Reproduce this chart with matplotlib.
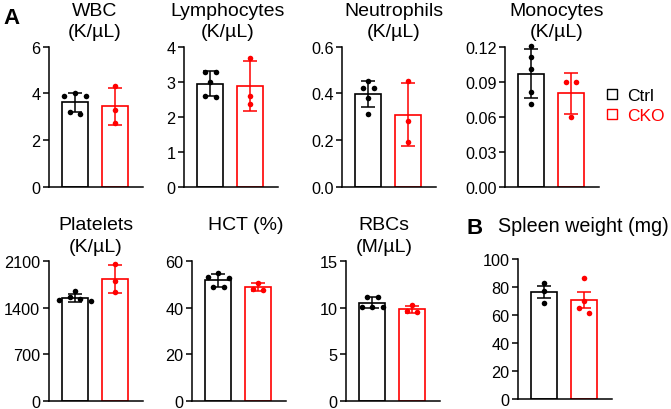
import numpy as np
import matplotlib
matplotlib.use("Agg")
import matplotlib.pyplot as plt
from matplotlib.lines import Line2D

plt.rcParams['font.family'] = ['Liberation Sans', 'DejaVu Sans']

# ---- data ----
groups = ["Ctrl", "CKO"]

wbc_ctrl = [3.87, 4.01, 3.87, 3.11, 3.19]
wbc_cko = [4.30, 3.30, 2.73]
lym_ctrl = [3.29, 3.27, 3.00, 2.60, 2.55]
lym_cko = [3.68, 2.60, 2.36]
neu_ctrl = [0.454, 0.421, 0.421, 0.381, 0.310]
neu_cko = [0.454, 0.281, 0.190]
mono_ctrl = [0.121, 0.111, 0.101, 0.081, 0.071]
mono_cko = [0.090, 0.090, 0.060]
plt_ctrl = [1650, 1560, 1530, 1510, 1495]
plt_cko = [2050, 1805, 1639]
hct_ctrl = [54.8, 53.0, 52.8, 49.0, 48.9]
hct_cko = [50.7, 47.6, 48.0]
rbc_ctrl = [11.16, 11.16, 10.10, 10.10, 10.03]
rbc_cko = [10.27, 9.56, 9.60]
spleen_ctrl = [83.1, 77.1, 68.3]
spleen_cko = [86.7, 70.2, 61.2, 64.8]

wbc_ticks = [0, 2, 4, 6]
lym_ticks = [0, 1, 2, 3, 4]
neu_ticks = [0.0, 0.2, 0.4, 0.6]
mono_ticks = [0.00, 0.03, 0.06, 0.09, 0.12]
plt_ticks = [0, 700, 1400, 2100]
hct_ticks = [0, 20, 40, 60]
rbc_ticks = [0, 5, 10, 15]
spleen_ticks = [0, 20, 40, 60, 80, 100]

W, H = 671, 410
colors = ["black", "#ff0000"]

# title, ctrl, cko, ticks, tick format, error type,
# axes box in px (left, top, right, bottom), title centre x / top y in px
panels = [
    ("WBC\n(K/µL)", wbc_ctrl, wbc_cko, wbc_ticks, "{:.0f}", "sd", (48.7, 47.7, 143, 187.7), (95, 3)),
    ("Lymphocytes\n(K/µL)", lym_ctrl, lym_cko, lym_ticks, "{:.0f}", "sd", (184, 47.7, 278, 187.7), (228, 3)),
    ("Neutrophils\n(K/µL)", neu_ctrl, neu_cko, neu_ticks, "{:.1f}", "sd", (342, 47.7, 436, 187.7), (394, 3)),
    ("Monocytes\n(K/µL)", mono_ctrl, mono_cko, mono_ticks, "{:.2f}", "sd", (505, 47.7, 599, 187.7), (557, 3)),
    ("Platelets\n(K/µL)", plt_ctrl, plt_cko, plt_ticks, "{:.0f}", "sd", (48.7, 262, 143, 402), (96, 217.5)),
    ("HCT (%)", hct_ctrl, hct_cko, hct_ticks, "{:.0f}", "sd", (192, 262, 286, 402), (246, 217.5)),
    ("RBCs\n(M/µL)", rbc_ctrl, rbc_cko, rbc_ticks, "{:.0f}", "sd", (346, 262, 440, 402), (384, 217.5)),
    (None, spleen_ctrl, spleen_cko, spleen_ticks, "{:.0f}", "sem", (518, 260, 612, 400), None),
]


def swarm_offsets(vals, px_per_val, gap_px=5.5, step=0.27):
    # GraphPad-like: points closer than gap_px share a row, spread symmetrically
    order = sorted(range(len(vals)), key=lambda i: -vals[i])
    rows = []
    for i in order:
        if rows and (vals[rows[-1][-1]] - vals[i]) * px_per_val < gap_px:
            rows[-1].append(i)
        else:
            rows.append([i])
    offs = [0.0] * len(vals)
    for row in rows:
        n = len(row)
        if n % 2:
            slots = [0]
            for k in range(1, n // 2 + 1):
                slots += [-k, k]
        else:
            slots = []
            for k in range(n // 2):
                slots += [-(k + 0.5), k + 0.5]
        for i, s in zip(row, slots):
            offs[i] = s * step
    return offs


fig = plt.figure(figsize=(W / 100, H / 100), dpi=100)

for title, ctrl, cko, ticks, fmt, err, (l, t, r, b), tpos in panels:
    ax = fig.add_axes([l / W, 1 - b / H, (r - l) / W, (b - t) / H])
    ymax = ticks[-1]
    px_per_val = (b - t) / ymax
    for xi, (vals, c) in enumerate(zip([ctrl, cko], colors)):
        vals = np.array(vals, dtype=float)
        m = vals.mean()
        sd = vals.std(ddof=1)
        e = sd / np.sqrt(len(vals)) if err == "sem" else sd
        ax.bar(xi, m, width=0.65, color="white", edgecolor=c, linewidth=1.2, zorder=2)
        ax.errorbar(xi, m, yerr=e, color=c, capsize=5, elinewidth=1.1,
                    capthick=1.1, zorder=3)
        offs = swarm_offsets(list(vals), px_per_val)
        ax.scatter(xi + np.array(offs), vals, s=16, color=c, zorder=4,
                   clip_on=False, linewidths=0)
    ax.set_xlim(-0.66, 1.7)
    ax.set_ylim(0, ymax)
    ax.set_yticks(ticks)
    ax.set_yticklabels([fmt.format(v) for v in ticks])
    ax.set_xticks([])
    for s in ["top", "right"]:
        ax.spines[s].set_visible(False)
    for s in ["left", "bottom"]:
        ax.spines[s].set_linewidth(1.1)
    ax.tick_params(axis="y", length=4, width=1.1, labelsize=11.7, pad=2)
    if title:
        fig.text(tpos[0] / W, 1 - tpos[1] / H, title, ha="center", va="top",
                 fontsize=14, linespacing=1.33)

fig.text(498 / W, 1 - 217.5 / H, "Spleen weight (mg)", ha="left", va="top", fontsize=14.2)
fig.text(3 / W, 1 - 8 / H, "A", ha="left", va="top", fontsize=16, fontweight="bold")
fig.text(467 / W, 1 - 218 / H, "B", ha="left", va="top", fontsize=16, fontweight="bold")

handles = [Line2D([], [], marker="s", linestyle="none", markersize=6.5,
                  markerfacecolor="white", markeredgecolor=c, markeredgewidth=1.0)
           for c in colors]
fig.legend(handles, groups, loc="center left", bbox_to_anchor=(606 / W, 1 - 106.5 / H),
           frameon=False, fontsize=12.5, handlelength=0.7, handletextpad=0.5,
           labelspacing=0.3, labelcolor=colors, borderaxespad=0, borderpad=0)

fig.savefig("out.png", dpi=100)
